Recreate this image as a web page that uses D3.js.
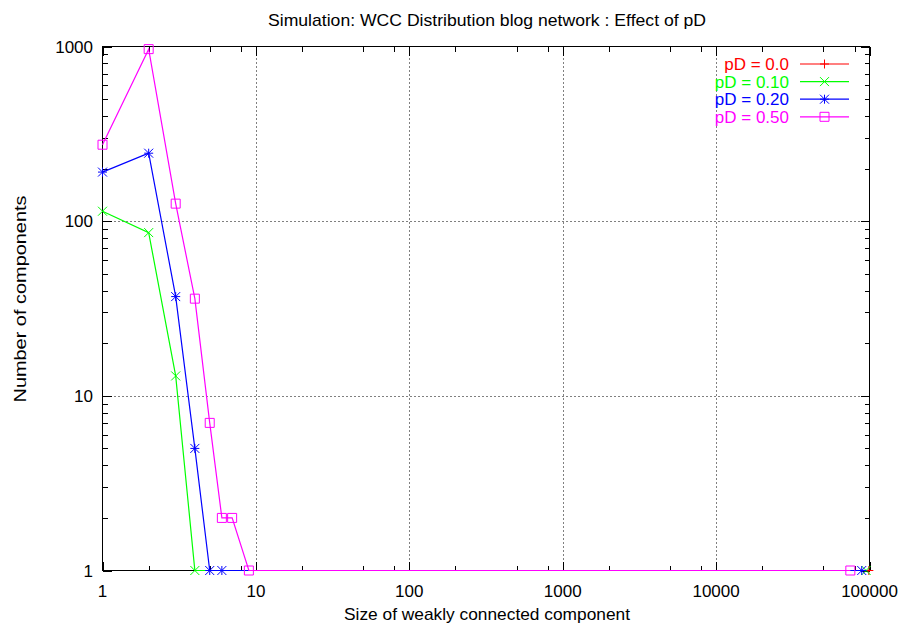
<!DOCTYPE html>
<html>
<head>
<meta charset="utf-8">
<script src="https://cdn.jsdelivr.net/npm/d3@7"></script>
<style>
  html, body { margin: 0; padding: 0; background: #fff; }
  svg { display: block; font-family: "Liberation Sans", Arial, Helvetica, sans-serif; }
</style>
</head>
<body>
<svg id="chart" width="903" height="626"></svg>
<script>
// ---- data ----
const titleText = "Simulation: WCC Distribution blog network : Effect of pD";
const xLabel = "Size of weakly connected component";
const yLabel = "Number of components";
const xTickValues = [1, 10, 100, 1000, 10000, 100000];
const xTickLabels = ["1", "10", "100", "1000", "10000", "100000"];
const yTickValues = [1, 10, 100, 1000];
const yTickLabels = ["1", "10", "100", "1000"];

const seriesNames = ["pD = 0.0", "pD = 0.10", "pD = 0.20", "pD = 0.50"];
const seriesColors = ["#ff0000", "#00ff00", "#0000ff", "#ff00ff"];
const seriesMarkers = ["plus", "cross", "star", "square"];

const sizes_pD000 = [99000];
const counts_pD000 = [1];
const sizes_pD010 = [1, 2, 3, 4, 95000];
const counts_pD010 = [114, 86, 13, 1, 1];
const sizes_pD020 = [1, 2, 3, 4, 5, 6, 89000];
const counts_pD020 = [191, 245, 37, 5, 1, 1, 1];
const sizes_pD050 = [1, 2, 3, 4, 5, 6, 7, 9, 75000];
const counts_pD050 = [274, 966, 126, 36, 7, 2, 2, 1, 1];

const seriesSizes = [sizes_pD000, sizes_pD010, sizes_pD020, sizes_pD050];
const seriesCounts = [counts_pD000, counts_pD010, counts_pD020, counts_pD050];

// ---- layout ----
const L = 102.5, R = 869.5, T = 46.5, B = 570.5;
const svg = d3.select("#chart");
const x = d3.scaleLog().domain([1, 100000]).range([L, R]);
const y = d3.scaleLog().domain([1, 1000]).range([B, T]);
const FS = 17;

// grid
const g = svg.append("g");
g.selectAll("line.gx").data(xTickValues.slice(1, -1)).join("line")
  .attr("x1", d => Math.round(x(d)) + 0.5).attr("x2", d => Math.round(x(d)) + 0.5)
  .attr("y1", T).attr("y2", B)
  .attr("stroke", "#000").attr("stroke-width", 1).attr("stroke-dasharray", "1,3");
g.selectAll("line.gy").data(yTickValues.slice(1, -1)).join("line")
  .attr("y1", d => Math.round(y(d)) + 0.5).attr("y2", d => Math.round(y(d)) + 0.5)
  .attr("x1", L).attr("x2", R)
  .attr("stroke", "#000").attr("stroke-width", 1).attr("stroke-dasharray", "1,3");

// axes with inward ticks, mirrored
const xMinor = [];
for (let e = 0; e < 5; e++) [2, 5, 8].forEach(m => xMinor.push(m * Math.pow(10, e)));
const yMinor = [];
for (let e = 0; e < 3; e++) for (let m = 2; m <= 9; m++) yMinor.push(m * Math.pow(10, e));

function addAxis(axisGen, transform) {
  const a = svg.append("g").attr("transform", transform).call(axisGen);
  a.select(".domain").remove();
  a.selectAll("text").remove();
  a.selectAll("line").attr("stroke", "#000").attr("shape-rendering", "crispEdges");
  return a;
}
// bottom
addAxis(d3.axisTop(x).tickValues(xTickValues).tickSize(9).tickFormat(""), `translate(0,${B})`);
addAxis(d3.axisTop(x).tickValues(xMinor).tickSize(5).tickFormat(""), `translate(0,${B})`);
// top
addAxis(d3.axisBottom(x).tickValues(xTickValues).tickSize(9).tickFormat(""), `translate(0,${T})`);
addAxis(d3.axisBottom(x).tickValues(xMinor).tickSize(5).tickFormat(""), `translate(0,${T})`);
// left
addAxis(d3.axisRight(y).tickValues(yTickValues).tickSize(9).tickFormat(""), `translate(${L},0)`);
addAxis(d3.axisRight(y).tickValues(yMinor).tickSize(5).tickFormat(""), `translate(${L},0)`);
// right
addAxis(d3.axisLeft(y).tickValues(yTickValues).tickSize(9).tickFormat(""), `translate(${R},0)`);
addAxis(d3.axisLeft(y).tickValues(yMinor).tickSize(5).tickFormat(""), `translate(${R},0)`);

// tick labels
svg.append("g").selectAll("text").data(xTickValues).join("text")
  .attr("x", d => x(d)).attr("y", 597)
  .attr("text-anchor", "middle").attr("font-size", FS).attr("fill", "#000")
  .text((d, i) => xTickLabels[i]);
svg.append("g").selectAll("text").data(yTickValues).join("text")
  .attr("x", 93).attr("y", d => y(d) + 6)
  .attr("text-anchor", "end").attr("font-size", FS).attr("fill", "#000")
  .text((d, i) => yTickLabels[i]);

// border
svg.append("rect").attr("x", L).attr("y", T).attr("width", R - L).attr("height", B - T)
  .attr("fill", "none").attr("stroke", "#000").attr("stroke-width", 1);

// markers
function marker(sel, type, color, cx, cy) {
  const h = 4.5;
  const p = d3.path();
  if (type === "plus" || type === "star") {
    p.moveTo(cx - h, cy); p.lineTo(cx + h, cy);
    p.moveTo(cx, cy - h); p.lineTo(cx, cy + h);
  }
  if (type === "cross" || type === "star") {
    p.moveTo(cx - h, cy - h); p.lineTo(cx + h, cy + h);
    p.moveTo(cx - h, cy + h); p.lineTo(cx + h, cy - h);
  }
  if (type === "square") {
    p.rect(cx - h, cy - h, 2 * h, 2 * h);
  }
  sel.append("path").attr("d", p.toString()).attr("fill", "none")
    .attr("stroke", color).attr("stroke-width", 1);
}

// series
const line = d3.line().x(d => x(d[0])).y(d => y(d[1]));
seriesNames.forEach((name, i) => {
  const pts = seriesSizes[i].map((s, j) => [s, seriesCounts[i][j]]);
  const sg = svg.append("g");
  sg.append("path").attr("d", line(pts)).attr("fill", "none")
    .attr("stroke", seriesColors[i]).attr("stroke-width", 1.2);
  pts.forEach(p => marker(sg, seriesMarkers[i], seriesColors[i], x(p[0]), y(p[1])));
});

// legend
seriesNames.forEach((name, i) => {
  const cy = 64 + i * 17.6;
  svg.append("text").attr("x", 789).attr("y", cy + 6)
    .attr("text-anchor", "end").attr("font-size", FS).attr("fill", seriesColors[i])
    .text(name);
  svg.append("line").attr("x1", 800).attr("x2", 849).attr("y1", cy).attr("y2", cy)
    .attr("stroke", seriesColors[i]).attr("stroke-width", 1.2);
  marker(svg, seriesMarkers[i], seriesColors[i], 824.5, cy);
});

// titles
svg.append("text").attr("x", 487).attr("y", 26).attr("text-anchor", "middle")
  .attr("font-size", FS).attr("fill", "#000").attr("textLength", 438)
  .attr("lengthAdjust", "spacingAndGlyphs").text(titleText);
svg.append("text").attr("x", 487).attr("y", 620).attr("text-anchor", "middle")
  .attr("font-size", FS).attr("fill", "#000").attr("textLength", 286)
  .attr("lengthAdjust", "spacingAndGlyphs").text(xLabel);
svg.append("text").attr("transform", "translate(26,299) rotate(-90)")
  .attr("text-anchor", "middle").attr("font-size", FS).attr("fill", "#000")
  .attr("textLength", 207).attr("lengthAdjust", "spacingAndGlyphs").text(yLabel);
</script>
</body>
</html>
